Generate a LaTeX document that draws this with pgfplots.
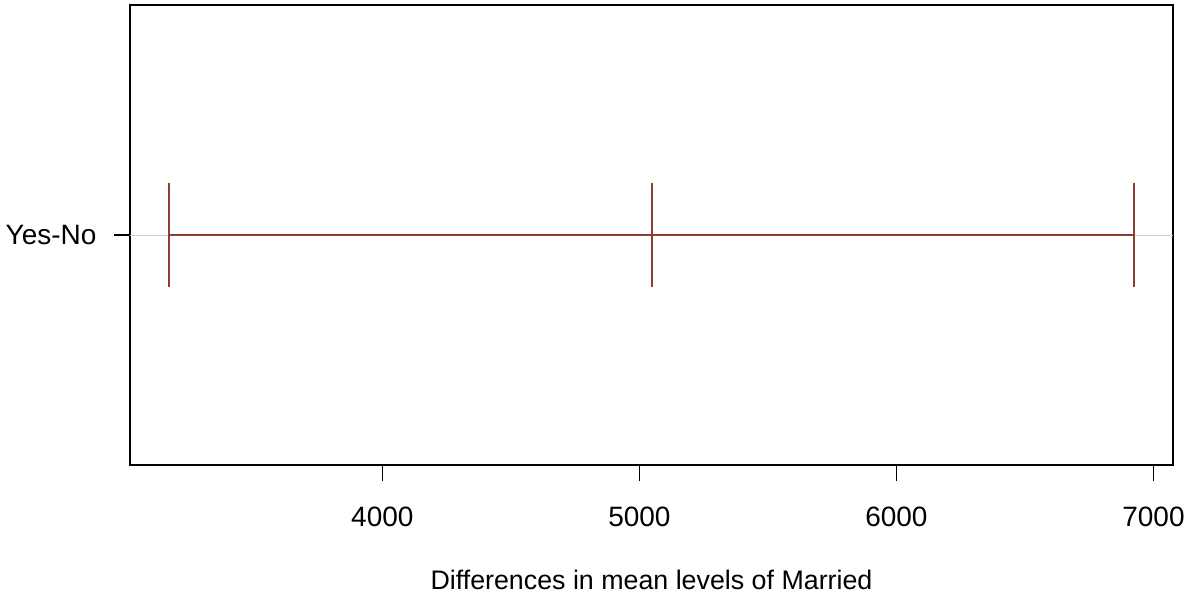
\documentclass[border=0pt]{standalone}
\usepackage{pgfplots}
\pgfplotsset{compat=1.18}
\usepackage{fontspec}
\setmainfont{Liberation Sans}
\definecolor{ci}{RGB}{140,62,52}
\begin{document}
\begin{tikzpicture}
\begin{axis}[
  at={(0,0)}, anchor=south west,
  scale only axis, width=1043pt, height=460pt,
  xmin=3018, xmax=7076, ymin=0.46, ymax=1.54,
  xtick={4000,5000,6000,7000},
  ytick={1}, yticklabels={Yes-No},
  tick align=outside, major tick length=16pt,
  tick style={black, line width=1.2pt},
  xtick pos=bottom, ytick pos=left,
  axis line style={line width=1.8pt},
  /pgf/number format/assume math mode=true,
  /pgf/number format/1000 sep={},
  tick label style={font=\fontsize{28}{32}\selectfont},
  xticklabel style={anchor=center, yshift=-36pt},
  yticklabel style={anchor=east, xshift=-14pt},
  xlabel={Differences in mean levels of Married},
  xlabel style={at={(axis description cs:0.5,-0.25)}, anchor=center, font=\fontsize{26.8}{31}\selectfont},
]
% reference line at the comparison level
\addplot[lightgray!80, line width=0.8pt] coordinates {(3018,1) (7076,1)};
% confidence interval and its ends
\addplot[ci, line width=2pt] coordinates {(3170,1) (6925,1)};
\addplot[ci, line width=2pt] coordinates {(3170,0.878) (3170,1.122)};
\addplot[ci, line width=2pt] coordinates {(5048,0.878) (5048,1.122)};
\addplot[ci, line width=2pt] coordinates {(6925,0.878) (6925,1.122)};
\end{axis}
\path[use as bounding box] (-130pt,-138pt) rectangle (1061pt,465pt);
\end{tikzpicture}
\end{document}
